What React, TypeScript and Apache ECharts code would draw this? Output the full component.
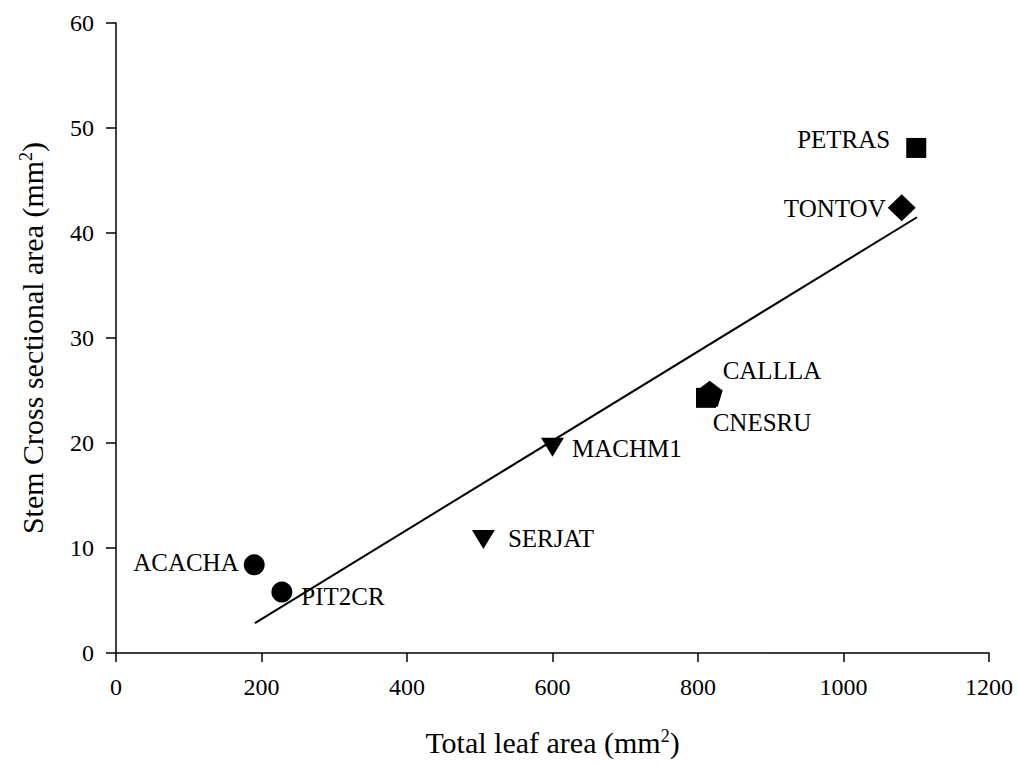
import React, { useEffect, useRef } from "react";
import * as echarts from "echarts";

// ---- Data ----
const speciesNames = ["ACACHA", "PIT2CR", "SERJAT", "MACHM1", "CNESRU", "CALLLA", "TONTOV", "PETRAS"];
const leafArea = [190, 228, 505, 600, 811, 816, 1080, 1100];
const stemArea = [8.4, 5.8, 10.8, 19.6, 24.3, 24.7, 42.4, 48.1];
const fitX = [191, 1101];
const fitY = [2.85, 41.5];
const xTickMin = 0;
const xTickMax = 1200;
const xTickStep = 200;
const yTickMin = 0;
const yTickMax = 60;
const yTickStep = 10;

// ---- Styles ----
const FONT = "Liberation Serif";
const PENTAGON = "path://M50,0 L100,38 L81,100 L19,100 L0,38 Z";

const markerStyles: Record<string, any> = {
  ACACHA: { symbol: "circle", symbolSize: 21, label: { position: "left", distance: 5, offset: [0, -2] } },
  PIT2CR: { symbol: "circle", symbolSize: 21, label: { position: "right", distance: 9, offset: [0, 4] } },
  SERJAT: { symbol: "triangle", symbolRotate: 180, symbolSize: [23, 19], label: { position: "right", distance: 13, offset: [0, -1] } },
  MACHM1: { symbol: "triangle", symbolRotate: 180, symbolSize: [23, 19], label: { position: "right", distance: 8, offset: [0, 1] } },
  CNESRU: { symbol: "rect", symbolSize: 20, label: { position: "bottom", distance: 2, offset: [56, 0] } },
  CALLLA: { symbol: PENTAGON, symbolSize: 26, label: { position: "right", distance: 0, offset: [0, -23] } },
  TONTOV: { symbol: "diamond", symbolSize: [28, 27], label: { position: "left", distance: 2, offset: [0, 1] } },
  PETRAS: { symbol: "rect", symbolSize: 20, label: { position: "left", distance: 16, offset: [0, -8] } },
};

export default function App() {
  const ref = useRef<HTMLDivElement>(null);

  useEffect(() => {
    document.body.style.margin = "0";
    if (!ref.current) return;
    const chart = echarts.init(ref.current, null, { renderer: "svg" });

    const scatterData = speciesNames.map((name, i) => {
      const st = markerStyles[name];
      return {
        name,
        value: [leafArea[i], stemArea[i]],
        symbol: st.symbol,
        symbolSize: st.symbolSize,
        symbolRotate: st.symbolRotate || 0,
        label: {
          show: true,
          formatter: name,
          color: "#000",
          fontFamily: FONT,
          fontSize: 25,
          ...st.label,
        },
      };
    });

    const fitData = fitX.map((x, i) => [x, fitY[i]]);

    const supRich = (size: number) => ({
      sup: { fontSize: size, fontFamily: FONT, color: "#000", verticalAlign: "top", padding: [0, 0, 12, 0] },
    });

    chart.setOption({
      animation: false,
      backgroundColor: "#fff",
      textStyle: { fontFamily: FONT, color: "#000" },
      grid: { left: 116, right: 29, top: 23, bottom: 112, containLabel: false },
      xAxis: {
        type: "value",
        min: xTickMin,
        max: xTickMax,
        interval: xTickStep,
        name: "Total leaf area (mm{sup|2})",
        nameLocation: "middle",
        nameGap: 74,
        nameTextStyle: { fontFamily: FONT, fontSize: 30, color: "#000", rich: supRich(18) },
        axisLine: { show: true, lineStyle: { color: "#000", width: 1.5 } },
        axisTick: { show: true, inside: false, length: 9, lineStyle: { color: "#000", width: 1.5 } },
        axisLabel: {
          fontFamily: FONT,
          fontSize: 24,
          color: "#000",
          margin: 22,
          formatter: (v: number) => String(v),
        },
        splitLine: { show: false },
      },
      yAxis: {
        type: "value",
        min: yTickMin,
        max: yTickMax,
        interval: yTickStep,
        name: "Stem Cross sectional area (mm{sup|2})",
        nameLocation: "middle",
        nameGap: 69,
        nameTextStyle: { fontFamily: FONT, fontSize: 30, color: "#000", rich: supRich(18) },
        axisLine: { show: true, lineStyle: { color: "#000", width: 1.5 } },
        axisTick: { show: true, inside: false, length: 10, lineStyle: { color: "#000", width: 1.5 } },
        axisLabel: {
          fontFamily: FONT,
          fontSize: 24,
          color: "#000",
          margin: 22,
          formatter: (v: number) => String(v),
        },
        splitLine: { show: false },
      },
      series: [
        {
          type: "line",
          data: fitData,
          showSymbol: false,
          symbol: "none",
          lineStyle: { color: "#000", width: 2 },
          silent: true,
          z: 1,
        },
        {
          type: "scatter",
          data: scatterData,
          itemStyle: { color: "#000", opacity: 1 },
          z: 2,
        },
      ],
    });

    return () => chart.dispose();
  }, []);

  return <div ref={ref} style={{ width: 1018, height: 765 }} />;
}
